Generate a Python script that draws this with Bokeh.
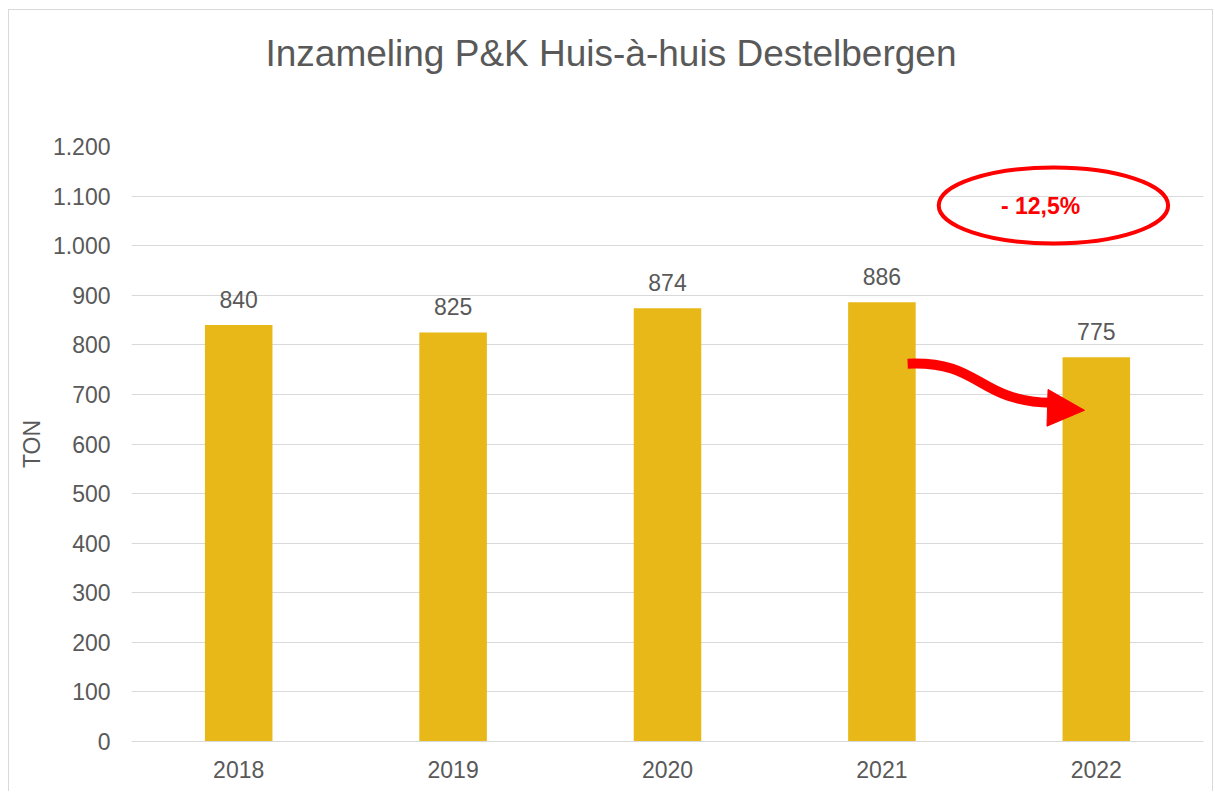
from bokeh.plotting import figure
from bokeh.models import Range1d, FixedTicker, Title
from bokeh.core.properties import value
from bokeh.embed import file_html
from bokeh.resources import INLINE

# --- data ---
years = ["2018", "2019", "2020", "2021", "2022"]
tons = [840, 825, 874, 886, 775]
y_ticks = [0, 100, 200, 300, 400, 500, 600, 700, 800, 900, 1000, 1100, 1200]
y_tick_labels = ["0", "100", "200", "300", "400", "500", "600", "700", "800", "900", "1.000", "1.100", "1.200"]
title_text = "Inzameling P&K Huis-à-huis Destelbergen"
change_label = "- 12,5%"

# annotation geometry (decoration, in data units)
ell_x, ell_y, ell_w, ell_h = 4.30, 1081, 1.07, 153
txt_x, txt_y = 4.24, 1081
arrow_x0, arrow_y0 = [3.62], [762]
arrow_cx0, arrow_cy0 = [3.97], [768]
arrow_cx1, arrow_cy1 = [3.93], [688]
arrow_x1, arrow_y1 = [4.29], [683]
head_xs = [4.275, 4.445, 4.27]
head_ys = [710, 668, 636]

FONT = "Liberation Sans"
GREY = "#595959"
GRID = "#d9d9d9"
BAR = "#E8B818"

xpos = [i + 0.5 for i in range(len(years))]

p = figure(width=1203, height=782, output_backend="svg", toolbar_location=None,
           x_range=Range1d(0, len(years)), y_range=Range1d(0, 1200),
           min_border_left=122, min_border_right=9, min_border_top=136, min_border_bottom=51)
p.margin = (10, 0, 0, 9)
p.styles = {"box-shadow": "-1px -1px 0 0 #d9d9d9, 1px -1px 0 0 #d9d9d9"}
p.outline_line_color = None
p.background_fill_color = "white"
p.border_fill_color = "white"

# spacer panel (closest to the frame), then the real title above it
p.add_layout(Title(text=" ", text_font=FONT, text_font_size="10px", standoff=58,
                   text_color="white"), "above")
p.add_layout(Title(text=title_text, align="left", offset=134, standoff=0,
                   vertical_align="top",
                   text_font=FONT, text_font_size="37px", text_font_style="normal",
                   text_color=GREY), "above")

p.vbar(x=xpos, top=tons, width=0.315, color=BAR, line_color=None)
p.text(x=xpos, y=tons, text=[str(v) for v in tons], text_align="center",
       text_baseline="alphabetic", y_offset=-26, text_font=value(FONT),
       text_font_size="23px", text_color=GREY)

# annotation: ellipse + percentage
p.ellipse(x=[ell_x], y=[ell_y], width=[ell_w], height=[ell_h], fill_color=None,
          line_color="#FF0000", line_width=4)
p.text(x=[txt_x], y=[txt_y], text=[change_label], text_align="center", text_baseline="middle",
       text_font=value(FONT), text_font_size="23px", text_font_style="bold", text_color="#FF0000")

# annotation: curved arrow
p.bezier(x0=arrow_x0, y0=arrow_y0, x1=arrow_x1, y1=arrow_y1,
         cx0=arrow_cx0, cy0=arrow_cy0, cx1=arrow_cx1, cy1=arrow_cy1,
         line_color="#FF0000", line_width=10)
p.patch(x=head_xs, y=head_ys, color="#FF0000", line_color="#FF0000")

# axes
p.xaxis.ticker = FixedTicker(ticks=xpos)
p.xaxis.major_label_overrides = {x: y for x, y in zip(xpos, years)}
p.xaxis.axis_line_color = GRID
p.xaxis.major_tick_line_color = None
p.xaxis.minor_tick_line_color = None
p.xaxis.major_label_standoff = 13
p.xaxis.major_label_text_font = FONT
p.xaxis.major_label_text_font_size = "23px"
p.xaxis.major_label_text_color = GREY

p.yaxis.ticker = FixedTicker(ticks=y_ticks)
p.yaxis.major_label_overrides = {k: v for k, v in zip(y_ticks, y_tick_labels)}
p.yaxis.axis_line_color = None
p.yaxis.major_tick_line_color = None
p.yaxis.minor_tick_line_color = None
p.yaxis.major_label_standoff = 15
p.yaxis.major_label_text_font = FONT
p.yaxis.major_label_text_font_size = "23px"
p.yaxis.major_label_text_color = GREY
p.yaxis.axis_label = "TON"
p.yaxis.axis_label_text_font = FONT
p.yaxis.axis_label_text_font_size = "23px"
p.yaxis.axis_label_text_font_style = "normal"
p.yaxis.axis_label_text_color = GREY
p.yaxis.axis_label_standoff = 5

p.xgrid.grid_line_color = None
p.ygrid.grid_line_color = GRID
p.ygrid.grid_line_width = 1

open("out.html", "w").write(file_html(p, INLINE))
